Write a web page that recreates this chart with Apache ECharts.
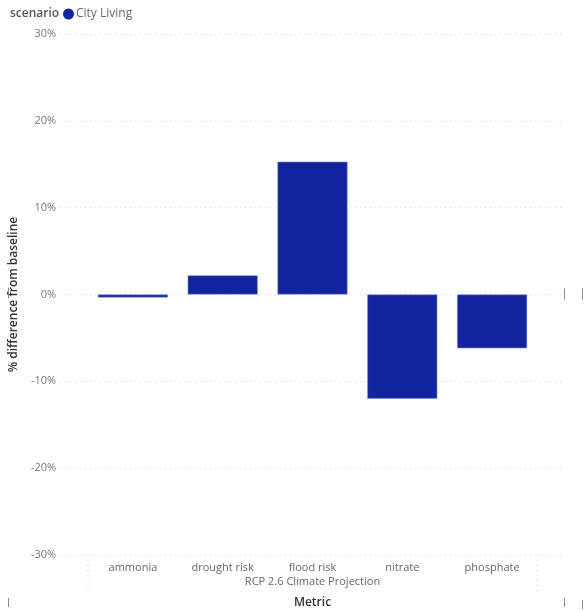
<!DOCTYPE html>
<html>
<head>
<meta charset="utf-8">
<script src="https://cdn.jsdelivr.net/npm/echarts@6/dist/echarts.min.js"></script>
<style>
  html, body { margin: 0; padding: 0; background: #fff; }
  #chart { width: 585px; height: 610px; }
</style>
</head>
<body>
<div id="chart"></div>
<script>
// Metrics under the RCP 2.6 projection, % difference from baseline
const categories = ['ammonia', 'drought risk', 'flood risk', 'nitrate', 'phosphate'];
const cityLiving = [-0.35, 2.2, 15.3, -12.0, -6.2];
const yTicks = { min: -30, max: 30, step: 10 };
const seriesName = 'City Living';
const legendTitle = 'scenario';
const groupLabel = 'RCP 2.6 Climate Projection';
const xTitle = 'Metric';
const yTitle = '% difference from baseline';

const FONT = '"Segoe UI", "Open Sans", "Noto Sans", sans-serif';
const BAR = '#12239E';

const chart = echarts.init(document.getElementById('chart'), null, { renderer: 'canvas' });

const plotTop = 34, plotBottom = 55;

chart.setOption({
  animation: false,
  textStyle: { fontFamily: FONT },
  grid: [
    // full-width grid carrying the value axis and its dotted gridlines
    { left: 55, right: 22, top: plotTop, bottom: plotBottom, containLabel: false },
    // inner grid holding the category bars
    { left: 88, right: 48, top: plotTop, bottom: plotBottom, containLabel: false }
  ],
  legend: {
    left: 63, top: 8, padding: 0,
    icon: 'circle', itemWidth: 11, itemHeight: 11, itemGap: 4,
    itemStyle: { borderWidth: 0 },
    textStyle: { color: '#666', fontSize: 12, fontFamily: FONT, padding: [0, 0, 0, -3] },
    data: [seriesName]
  },
  xAxis: [
    { gridIndex: 0, type: 'value', min: 0, max: 1, show: false },
    {
      gridIndex: 1, type: 'category', data: categories,
      axisLine: { show: false }, axisTick: { show: false },
      axisLabel: { color: '#666', fontSize: 11, margin: 7, fontFamily: FONT },
      splitLine: { show: false }
    }
  ],
  yAxis: [
    {
      gridIndex: 0, type: 'value',
      min: yTicks.min, max: yTicks.max, interval: yTicks.step,
      axisLine: { show: false }, axisTick: { show: false },
      axisLabel: { color: '#777', fontSize: 11, margin: 4, fontFamily: FONT,
                   formatter: v => v + '%' },
      splitLine: { show: true, lineStyle: { color: '#d0d0d0', type: [1, 4], width: 1 } },
      name: yTitle, nameLocation: 'middle', nameGap: 33,
      nameTextStyle: { color: '#333', fontSize: 12, fontWeight: 600, fontFamily: FONT }
    },
    {
      gridIndex: 1, type: 'value',
      min: yTicks.min, max: yTicks.max, interval: yTicks.step, show: false
    }
  ],
  series: [{
    name: seriesName,
    type: 'bar',
    xAxisIndex: 1, yAxisIndex: 1,
    data: cityLiving,
    barCategoryGap: '22%',
    itemStyle: { color: BAR, borderColor: '#7f89cf', borderWidth: 0.6 }
  }]
});

// Decorations placed from the axis geometry
function decorate() {
  const left = chart.convertToPixel({ gridIndex: 1 }, [categories[0], 0]);
  const right = chart.convertToPixel({ gridIndex: 1 }, [categories[categories.length - 1], 0]);
  const band = (right[0] - left[0]) / (categories.length - 1);
  const x0 = left[0] - band / 2, x1 = right[0] + band / 2;
  const yBottom = chart.convertToPixel({ gridIndex: 1 }, [categories[0], yTicks.min])[1];
  const yZero = left[1];
  const mid = (x0 + x1) / 2;
  const dotted = { stroke: '#d0d0d0', lineWidth: 1, lineDash: [1, 4] };
  const handle = { stroke: '#888', lineWidth: 1 };
  chart.setOption({
    graphic: [
      { type: 'text', x: 10, y: 14,
        style: { text: legendTitle, fill: '#555', font: '600 12px ' + FONT, verticalAlign: 'middle' } },
      { type: 'line', shape: { x1: x0, y1: yBottom, x2: x0, y2: yBottom + 36 }, style: dotted },
      { type: 'line', shape: { x1: x1, y1: yBottom, x2: x1, y2: yBottom + 36 }, style: dotted },
      { type: 'text', x: mid, y: yBottom + 27,
        style: { text: groupLabel, fill: '#666', font: '11px ' + FONT, align: 'center', verticalAlign: 'middle' } },
      { type: 'text', x: mid, y: yBottom + 48,
        style: { text: xTitle, fill: '#333', font: '600 12px ' + FONT, align: 'center', verticalAlign: 'middle' } },
      // resize handles of the visual frame
      { type: 'line', z: 100, shape: { x1: 8.5, y1: yZero - 7, x2: 8.5, y2: yZero + 4 }, style: handle },
      { type: 'line', z: 100, shape: { x1: 564.5, y1: yZero - 6, x2: 564.5, y2: yZero + 5 }, style: handle },
      { type: 'line', z: 100, shape: { x1: 582.5, y1: yZero - 6, x2: 582.5, y2: yZero + 5 }, style: handle },
      { type: 'line', z: 100, shape: { x1: 8.5, y1: 598, x2: 8.5, y2: 607 }, style: handle },
      { type: 'line', z: 100, shape: { x1: 564.5, y1: 598, x2: 564.5, y2: 607 }, style: handle },
      { type: 'line', z: 100, shape: { x1: 582.5, y1: 600, x2: 582.5, y2: 609 }, style: handle }
    ]
  });
}
decorate();
</script>
</body>
</html>
